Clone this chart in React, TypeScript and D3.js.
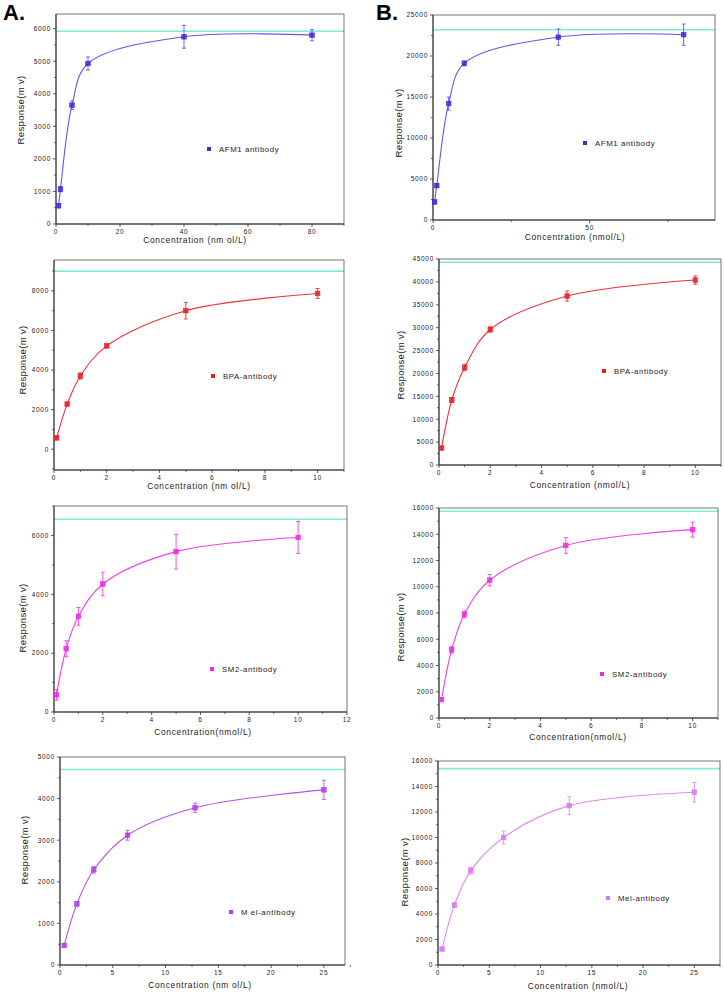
import * as d3 from 'd3'

// ---- data ----
const afmAX = [0.8, 1.4, 5, 10, 40, 80]
const afmAY = [560, 1070, 3650, 4930, 5750, 5800]
const afmAErr = [60, 80, 130, 200, 350, 170]

const afmBX = [0.5, 1.2, 5, 10, 40, 80]
const afmBY = [2200, 4200, 14200, 19100, 22300, 22600]
const afmBErr = [150, 200, 800, 300, 1000, 1300]

const bpaAX = [0.1, 0.5, 1, 2, 5, 10]
const bpaAY = [570, 2280, 3700, 5220, 7000, 7870]
const bpaAErr = [60, 80, 150, 90, 420, 250]

const bpaBX = [0.1, 0.5, 1, 2, 5, 10]
const bpaBY = [3700, 14200, 21300, 29600, 36900, 40400]
const bpaBErr = [300, 500, 700, 600, 1100, 900]

const sm2AX = [0.1, 0.5, 1, 2, 5, 10]
const sm2AY = [580, 2150, 3250, 4350, 5450, 5930]
const sm2AErr = [180, 270, 300, 400, 590, 540]

const sm2BX = [0.1, 0.5, 1, 2, 5, 10]
const sm2BY = [1400, 5200, 7900, 10500, 13150, 14350]
const sm2BErr = [120, 250, 250, 430, 600, 570]

const melAX = [0.4, 1.6, 3.2, 6.4, 12.8, 25]
const melAY = [470, 1470, 2290, 3120, 3780, 4210]
const melAErr = [40, 50, 80, 120, 110, 230]

const melBX = [0.4, 1.6, 3.2, 6.4, 12.8, 25]
const melBY = [1250, 4700, 7400, 10000, 12500, 13550]
const melBErr = [100, 150, 270, 500, 700, 770]

const saturation = [5920, 23200, 9000, 44300, 6550, 15750, 4700, 15400]

type PanelSpec = {
  box: [number, number, number, number] // left, right, top, bottom
  xDomain: [number, number]
  yDomain: [number, number]
  xTicks: number[]
  xMinor: number[]
  yTicks: number[]
  yMinor: number[]
  xs: number[]
  ys: number[]
  errs: number[]
  sat: number
  line: string
  marker: string
  legend: string
  legendAt: [number, number]
  xTitle: string
  xTitleAt: [number, number]
  yTitleAt: [number, number]
}

const range = (a: number, b: number, s: number) => d3.range(a, b + s / 2, s)

const panels: PanelSpec[] = [
  {
    box: [56, 344, 14, 224], xDomain: [0, 90], yDomain: [0, 6450],
    xTicks: range(0, 80, 20), xMinor: range(10, 90, 20),
    yTicks: range(0, 6000, 1000), yMinor: range(500, 6000, 1000),
    xs: afmAX, ys: afmAY, errs: afmAErr, sat: saturation[0],
    line: '#6a52ee', marker: '#3b2bd2', legend: 'AFM1 antibody', legendAt: [209, 149],
    xTitle: 'Concentration (nm ol/L)', xTitleAt: [195, 243], yTitleAt: [21, 110],
  },
  {
    box: [433, 715, 15, 220], xDomain: [0, 90], yDomain: [0, 25000],
    xTicks: [0, 50], xMinor: [25, 75],
    yTicks: range(0, 25000, 5000), yMinor: range(2500, 25000, 5000),
    xs: afmBX, ys: afmBY, errs: afmBErr, sat: saturation[1],
    line: '#6a52ee', marker: '#3b2bd2', legend: 'AFM1 antibody', legendAt: [585, 143],
    xTitle: 'Concentration (nmol/L)', xTitleAt: [575, 240], yTitleAt: [399, 123],
  },
  {
    box: [54, 344, 260, 470], xDomain: [0, 11], yDomain: [-1050, 9560],
    xTicks: range(0, 10, 2), xMinor: range(1, 11, 2),
    yTicks: range(0, 8000, 2000), yMinor: range(-1000, 9000, 2000),
    xs: bpaAX, ys: bpaAY, errs: bpaAErr, sat: saturation[2],
    line: '#f0303c', marker: '#ee1c24', legend: 'BPA-antibody', legendAt: [213, 376],
    xTitle: 'Concentration (nm ol/L)', xTitleAt: [199, 489], yTitleAt: [23, 360],
  },
  {
    box: [439, 721, 259, 465], xDomain: [0, 11], yDomain: [0, 45000],
    xTicks: range(0, 10, 2), xMinor: range(1, 11, 2),
    yTicks: range(0, 45000, 5000), yMinor: range(2500, 45000, 5000),
    xs: bpaBX, ys: bpaBY, errs: bpaBErr, sat: saturation[3],
    line: '#f0303c', marker: '#ee1c24', legend: 'BPA-antibody', legendAt: [604, 371],
    xTitle: 'Concentration (nmol/L)', xTitleAt: [580, 488], yTitleAt: [401, 365],
  },
  {
    box: [54, 347, 506, 712], xDomain: [0, 12], yDomain: [0, 7000],
    xTicks: range(0, 12, 2), xMinor: range(1, 11, 2),
    yTicks: range(0, 6000, 2000), yMinor: range(1000, 7000, 2000),
    xs: sm2AX, ys: sm2AY, errs: sm2AErr, sat: saturation[4],
    line: '#f040e6', marker: '#f028e0', legend: 'SM2-antibody', legendAt: [212, 669],
    xTitle: 'Concentration(nmol/L)', xTitleAt: [203, 735], yTitleAt: [23, 618],
  },
  {
    box: [439, 718, 508, 718], xDomain: [0, 11], yDomain: [0, 16000],
    xTicks: range(0, 10, 2), xMinor: range(1, 11, 2),
    yTicks: range(0, 16000, 2000), yMinor: range(1000, 16000, 2000),
    xs: sm2BX, ys: sm2BY, errs: sm2BErr, sat: saturation[5],
    line: '#f040e6', marker: '#f028e0', legend: 'SM2-antibody', legendAt: [602, 674],
    xTitle: 'Concentration(nmol/L)', xTitleAt: [578, 740], yTitleAt: [401, 627],
  },
  {
    box: [60, 345, 757, 965], xDomain: [0, 27], yDomain: [0, 5000],
    xTicks: range(0, 25, 5), xMinor: range(2.5, 27, 5),
    yTicks: range(0, 5000, 1000), yMinor: range(500, 5000, 1000),
    xs: melAX, ys: melAY, errs: melAErr, sat: saturation[6],
    line: '#b850ea', marker: '#b040e6', legend: 'M el-antibody', legendAt: [231, 912],
    xTitle: 'Concentration (nm ol/L)', xTitleAt: [200, 988], yTitleAt: [25, 850],
  },
  {
    box: [438, 720, 761, 965], xDomain: [0, 27.5], yDomain: [0, 16000],
    xTicks: range(0, 25, 5), xMinor: range(2.5, 27.5, 5),
    yTicks: range(0, 16000, 2000), yMinor: range(1000, 16000, 2000),
    xs: melBX, ys: melBY, errs: melBErr, sat: saturation[7],
    line: '#e08af2', marker: '#d878ee', legend: 'Mel-antibody', legendAt: [608, 898],
    xTitle: 'Concentration (nmol/L)', xTitleAt: [578, 989], yTitleAt: [405, 872],
  },
]

const FONT = 'Liberation Sans, Arial, sans-serif'
const AXIS = '#333'

function Panel({ p }: { p: PanelSpec }) {
  const [left, right, top, bottom] = p.box
  const x = d3.scaleLinear().domain(p.xDomain).range([left, right])
  const y = d3.scaleLinear().domain(p.yDomain).range([bottom, top])
  const pts = p.xs.map((v, i) => ({ x: v, y: p.ys[i], e: p.errs[i] }))
  const line = d3
    .line<{ x: number; y: number }>()
    .x(d => x(d.x))
    .y(d => y(d.y))
    .curve(d3.curveCatmullRom.alpha(0.5))

  return (
    <g>
      <line x1={left} x2={right} y1={y(p.sat)} y2={y(p.sat)} stroke="#7fecd9" strokeWidth={1.6} />
      <rect x={left} y={top} width={right - left} height={bottom - top} fill="none" stroke="#555" strokeWidth={0.8} />
      <line x1={left} x2={left} y1={top} y2={bottom} stroke={AXIS} strokeWidth={1} />
      <line x1={left} x2={right} y1={bottom} y2={bottom} stroke={AXIS} strokeWidth={1} />

      {p.yTicks.map(t => (
        <g key={`yt${t}`}>
          <line x1={left - 3} x2={left} y1={y(t)} y2={y(t)} stroke={AXIS} strokeWidth={0.8} />
          <text x={left - 5} y={y(t) + 2.3} textAnchor="end" fontSize={6.5} letterSpacing={0.7} fill="#222" fontFamily={FONT}>
            {t}
          </text>
        </g>
      ))}
      {p.yMinor.map(t => (
        <line key={`ym${t}`} x1={left - 2} x2={left} y1={y(t)} y2={y(t)} stroke={AXIS} strokeWidth={0.7} />
      ))}
      {p.xTicks.map(t => (
        <g key={`xt${t}`}>
          <line x1={x(t)} x2={x(t)} y1={bottom} y2={bottom + 3} stroke={AXIS} strokeWidth={0.8} />
          <text x={x(t)} y={bottom + 10} textAnchor="middle" fontSize={6.5} letterSpacing={0.7} fill="#222" fontFamily={FONT}>
            {t}
          </text>
        </g>
      ))}
      {p.xMinor.map(t => (
        <line key={`xm${t}`} x1={x(t)} x2={x(t)} y1={bottom} y2={bottom + 2} stroke={AXIS} strokeWidth={0.7} />
      ))}

      <path d={line(pts) ?? ''} fill="none" stroke={p.line} strokeWidth={1.1} />

      {pts.map((d, i) => (
        <g key={`pt${i}`}>
          <line x1={x(d.x)} x2={x(d.x)} y1={y(d.y - d.e)} y2={y(d.y + d.e)} stroke={p.line} strokeWidth={0.9} />
          <line x1={x(d.x) - 2} x2={x(d.x) + 2} y1={y(d.y + d.e)} y2={y(d.y + d.e)} stroke={p.line} strokeWidth={0.9} />
          <line x1={x(d.x) - 2} x2={x(d.x) + 2} y1={y(d.y - d.e)} y2={y(d.y - d.e)} stroke={p.line} strokeWidth={0.9} />
          <rect x={x(d.x) - 2.3} y={y(d.y) - 2.3} width={4.6} height={4.6} fill={p.marker} fillOpacity={0.85} stroke={p.marker} strokeWidth={0.6} />
        </g>
      ))}

      <rect x={p.legendAt[0] - 2} y={p.legendAt[1] - 2} width={4} height={4} fill={p.marker} />
      <text x={p.legendAt[0] + 10} y={p.legendAt[1] + 2.8} fontSize={7.8} letterSpacing={0.6} fill="#222" fontFamily={FONT}>
        {p.legend}
      </text>

      <text x={p.xTitleAt[0]} y={p.xTitleAt[1]} textAnchor="middle" fontSize={8.4} letterSpacing={0.7} fill="#222" fontFamily={FONT}>
        {p.xTitle}
      </text>
      <text
        transform={`translate(${p.yTitleAt[0] + 3},${p.yTitleAt[1]}) rotate(-90)`}
        textAnchor="middle"
        fontSize={9.6}
        letterSpacing={0.3}
        fill="#222"
        fontFamily={FONT}
      >
        Response(m v)
      </text>
    </g>
  )
}

export default function App() {
  return (
    <div style={{ position: 'absolute', left: 0, top: 0 }}>
      <svg width={724} height={992} viewBox="0 0 724 992" style={{ display: 'block', background: '#fff' }}>
        <text x={3} y={20} fontSize={22} fontWeight="bold" fontFamily={FONT} fill="#000">A.</text>
        <text x={376} y={20} fontSize={22} fontWeight="bold" fontFamily={FONT} fill="#000">B.</text>
        {panels.map((p, i) => (
          <Panel key={i} p={p} />
        ))}
      </svg>
    </div>
  )
}
